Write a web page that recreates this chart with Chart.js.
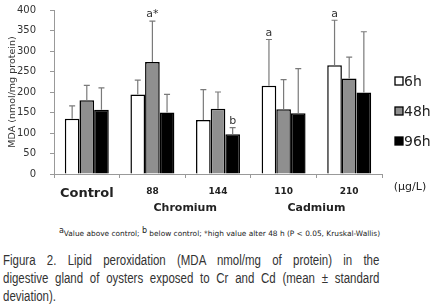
<!DOCTYPE html>
<html>
<head>
<meta charset="utf-8">
<script src="https://cdn.jsdelivr.net/npm/chart.js@4"></script>
<style>
  body { margin: 0; background: #fff; width: 439px; height: 307px; overflow: hidden; }
  #wrap { position: relative; width: 439px; height: 222px; }
  .nota { position: absolute; left: 0; top: 229px; width: 439px; text-align: center;
    font-family: "DejaVu Sans", sans-serif; font-size: 7.4px; color: #222; }
  .nota sup { font-size: 8px; vertical-align: 3px; line-height: 0; }
  .legenda { position: absolute; left: 3px; top: 251px; width: 459px;
    transform: scaleX(0.82); transform-origin: 0 0;
    font-family: "Liberation Sans", Arial, sans-serif;
    font-size: 14px; line-height: 18px; color: #333; }
  .legenda div { text-align: justify; text-align-last: justify; white-space: nowrap; }
  .legenda div.ult { text-align-last: left; }
</style>
</head>
<body>
<div id="wrap"><canvas id="grafico" width="439" height="222"></canvas></div>
<div class="nota"><sup>a</sup>Value above control; <sup>b</sup> below control; *high value alter 48 h (P &lt; 0.05, Kruskal-Wallis)</div>
<div class="legenda">
  <div>Figura 2. Lipid peroxidation (MDA nmol/mg of protein) in the</div>
  <div>digestive gland of oysters exposed to Cr and Cd (mean ± standard</div>
  <div class="ult">deviation).</div>
</div>
<script>
// dados
var categorias = ["Control", "88", "144", "110", "210"];
var series = ["6h", "48h", "96h"];
var valores6h  = [135, 194, 132, 215, 265];
var valores48h = [180, 273, 159, 158, 233];
var valores96h = [157, 150, 97, 148, 199];
var desvio6h  = [31, 35, 74, 113, 110];
var desvio48h = [36, 100, 41, 72, 52];
var desvio96h = [53, 44, 16, 109, 148];
var letras6h  = ["", "", "", "a", "a"];
var letras48h = ["", "a*", "", "", ""];
var letras96h = ["", "", "b", "", ""];
var grupos = [{texto: "Chromium", de: 1, ate: 2}, {texto: "Cadmium", de: 3, ate: 4}];
var yTicks = [0, 50, 100, 150, 200, 250, 300, 350, 400];

var cores = ["#ffffff", "#8f8f8f", "#000000"];
var desvios = [desvio6h, desvio48h, desvio96h];
var letras = [letras6h, letras48h, letras96h];

/* barras de erro, letras e textos extras */
var pluginExtras = {
  id: "extras",
  afterDatasetsDraw: function (chart) {
    var ctx = chart.ctx;
    var y = chart.scales.y;
    var x = chart.scales.x;
    ctx.save();
    for (var d = 0; d < 3; d++) {
      var meta = chart.getDatasetMeta(d);
      meta.data.forEach(function (bar, i) {
        var topo = y.getPixelForValue(chart.data.datasets[d].data[i] + desvios[d][i]);
        ctx.strokeStyle = "#7a7a7a";
        ctx.lineWidth = 1.2;
        ctx.beginPath();
        ctx.moveTo(bar.x, bar.y);
        ctx.lineTo(bar.x, topo);
        ctx.moveTo(bar.x - 3, topo);
        ctx.lineTo(bar.x + 3, topo);
        ctx.stroke();
        if (letras[d][i]) {
          ctx.fillStyle = "#333";
          ctx.font = "11px 'DejaVu Sans', sans-serif";
          ctx.textAlign = "center";
          ctx.textBaseline = "bottom";
          ctx.fillText(letras[d][i], bar.x, topo - 1);
        }
      });
    }
    // grupos Chromium / Cadmium
    ctx.fillStyle = "#222";
    ctx.font = "bold 11px 'DejaVu Sans', sans-serif";
    ctx.textAlign = "center";
    ctx.textBaseline = "middle";
    grupos.forEach(function (g) {
      var cx = (x.getPixelForValue(g.de) + x.getPixelForValue(g.ate)) / 2;
      ctx.fillText(g.texto, cx, 208);
    });
    ctx.font = "11px 'DejaVu Sans', sans-serif";
    ctx.fillText("(\u00b5g/L)", 410, 187);

    // legenda
    ctx.textAlign = "left";
    ctx.font = "14px 'DejaVu Sans', sans-serif";
    for (var s = 0; s < series.length; s++) {
      var ly = 82 + s * 30;
      ctx.fillStyle = cores[s];
      ctx.fillRect(395, ly - 5, 8, 8);
      ctx.strokeStyle = "#000";
      ctx.lineWidth = 1.3;
      ctx.strokeRect(395, ly - 5, 8, 8);
      ctx.fillStyle = "#222";
      ctx.fillText(series[s], 404, ly);
    }
    ctx.restore();
  }
};

var ctx = document.getElementById("grafico");
var grafico = new Chart(ctx, {
  type: "bar",
  data: {
    labels: categorias,
    datasets: series.map(function (nome, k) {
      return {
        label: nome,
        data: [valores6h, valores48h, valores96h][k],
        backgroundColor: cores[k],
        borderColor: "#000",
        borderWidth: 1.5,
        categoryPercentage: 0.67,
        barPercentage: 1
      };
    })
  },
  options: {
    responsive: false,
    animation: false,
    layout: { padding: { top: 10, right: 57, left: 0, bottom: 0 } },
    plugins: { legend: { display: false }, tooltip: { enabled: false } },
    scales: {
      x: {
        grid: { offset: true, drawOnChartArea: false, tickLength: 4, color: "#999" },
        border: { color: "#999" },
        ticks: {
          color: "#222",
          padding: 8,
          font: function (c) {
            return c.index === 0 ? { size: 13, weight: "bold", family: "'DejaVu Sans', sans-serif" }
                                 : { size: 9, weight: "bold", family: "'DejaVu Sans', sans-serif" };
          }
        },
        afterFit: function (scale) { scale.height = 48; }
      },
      y: {
        min: 0, max: 400,
        afterBuildTicks: function (scale) {
          scale.ticks = yTicks.map(function (v) { return { value: v }; });
        },
        grid: { drawOnChartArea: false, tickLength: 4, color: "#999" },
        border: { color: "#999" },
        ticks: { color: "#333", padding: 14, font: { size: 10, family: "'DejaVu Sans', sans-serif" } },
        title: { display: true, text: "MDA (nmol/mg protein)", color: "#333",
          font: { size: 9.5, family: "'DejaVu Sans', sans-serif" }, padding: { top: 7, bottom: 0 } },
        afterFit: function (scale) {
          scale.width = 54;
          scale.paddingTop = 0;
          scale.paddingBottom = 0;
        }
      }
    }
  },
  plugins: [pluginExtras]
});
</script>
</body>
</html>
